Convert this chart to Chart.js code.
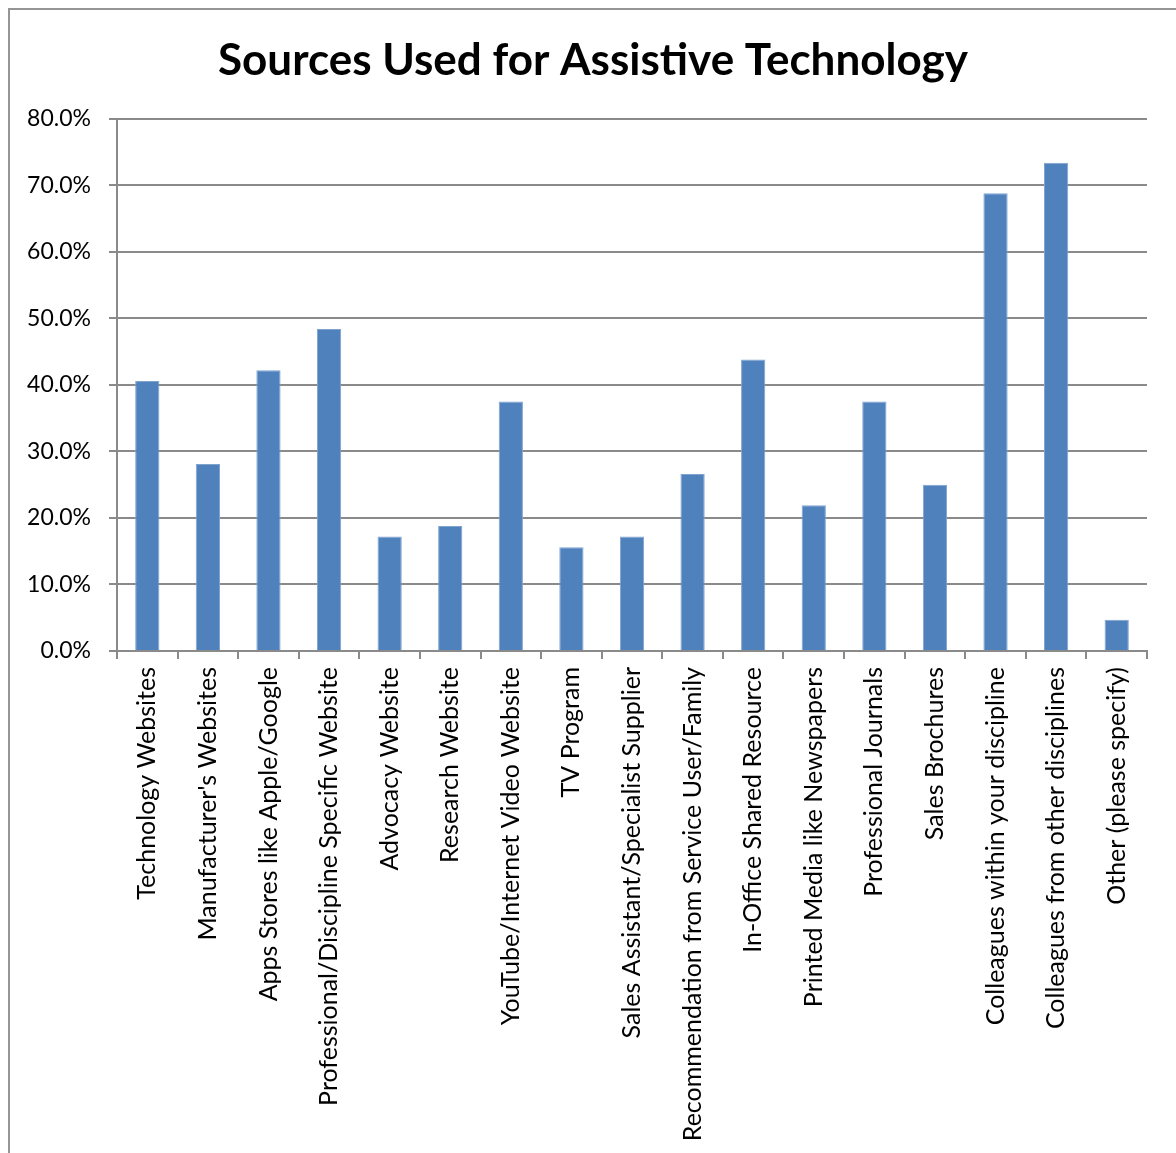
<!DOCTYPE html>
<html>
<head>
<meta charset="utf-8">
<script src="https://cdn.jsdelivr.net/npm/chart.js@4"></script>
<style>
  body { margin: 0; background: #fff; }
  #frame {
    position: absolute; left: 8px; top: 8px;
    width: 1168px; height: 1145px;
    border-left: 2px solid #959595; border-top: 2px solid #959595;
    box-sizing: border-box;
  }
  #wrap { position: relative; width: 1166px; height: 1143px; }
</style>
</head>
<body>
<div id="frame"><div id="wrap"><canvas id="sourcesChart"></canvas></div></div>
<script>
// categories and share of respondents (%)
var sources = [
  "Technology Websites",
  "Manufacturer's Websites",
  "Apps Stores like Apple/Google",
  "Professional/Discipline Specific Website",
  "Advocacy Website",
  "Research Website",
  "YouTube/Internet Video Website",
  "TV Program",
  "Sales Assistant/Specialist Supplier",
  "Recommendation from Service User/Family",
  "In-Office Shared Resource",
  "Printed Media like Newspapers",
  "Professional Journals",
  "Sales Brochures",
  "Colleagues within your discipline",
  "Colleagues from other disciplines",
  "Other (please specify)"
];
var percentUsed = [40.6, 28.1, 42.2, 48.4, 17.2, 18.8, 37.5, 15.6, 17.2, 26.6, 43.8, 21.9, 37.5, 25.0, 68.8, 73.4, 4.7];
var yTicks = [0, 10, 20, 30, 40, 50, 60, 70, 80];

var fontFamily = "Lato, 'Open Sans', sans-serif";
var axisGray = '#8a8a8a';

var ctx = document.getElementById('sourcesChart').getContext('2d');
var myChart = new Chart(ctx, {
  type: 'bar',
  data: {
    labels: sources,
    datasets: [{
      label: 'Sources',
      data: percentUsed,
      backgroundColor: '#4f81bd',
      borderColor: '#7fa3cf',
      borderWidth: 1,
      barPercentage: 0.4,
      categoryPercentage: 1.0
    }]
  },
  options: {
    responsive: true,
    maintainAspectRatio: false,
    animation: false,
    layout: { padding: 0 },
    plugins: {
      legend: { display: false },
      tooltip: { enabled: false },
      title: {
        display: true,
        text: 'Sources Used for Assistive Technology',
        color: '#000',
        font: { family: fontFamily, size: 44, weight: 'bold' },
        padding: { top: 24, bottom: 32 }
      }
    },
    scales: {
      x: {
        grid: {
          offset: true,
          drawOnChartArea: false,
          drawTicks: true,
          tickLength: 8,
          color: axisGray,
          lineWidth: 2
        },
        border: { display: true, color: axisGray, width: 2 },
        ticks: {
          color: '#000',
          autoSkip: false,
          minRotation: 90,
          maxRotation: 90,
          padding: 8,
          font: { family: fontFamily, size: 25 }
        },
        afterFit: function(scale) { scale.height = 502; }
      },
      y: {
        min: 0,
        max: 80,
        afterBuildTicks: function(scale) {
          scale.ticks = yTicks.map(function(v) { return { value: v }; });
        },
        grid: {
          color: axisGray,
          lineWidth: 2,
          tickLength: 8,
          drawTicks: true
        },
        border: { display: true, color: axisGray, width: 2 },
        ticks: {
          color: '#000',
          padding: 18,
          font: { family: fontFamily, size: 23 },
          callback: function(v) { return v.toFixed(1) + '%'; }
        },
        afterFit: function(scale) { scale.width = 107; }
      },
      // empty right-hand axis, only keeps a margin beside the plot
      yRight: {
        position: 'right',
        min: 0,
        max: 80,
        grid: { drawOnChartArea: false, drawTicks: false },
        border: { display: false },
        ticks: { display: false },
        afterFit: function(scale) { scale.width = 29; }
      }
    }
  }
});
</script>
</body>
</html>
